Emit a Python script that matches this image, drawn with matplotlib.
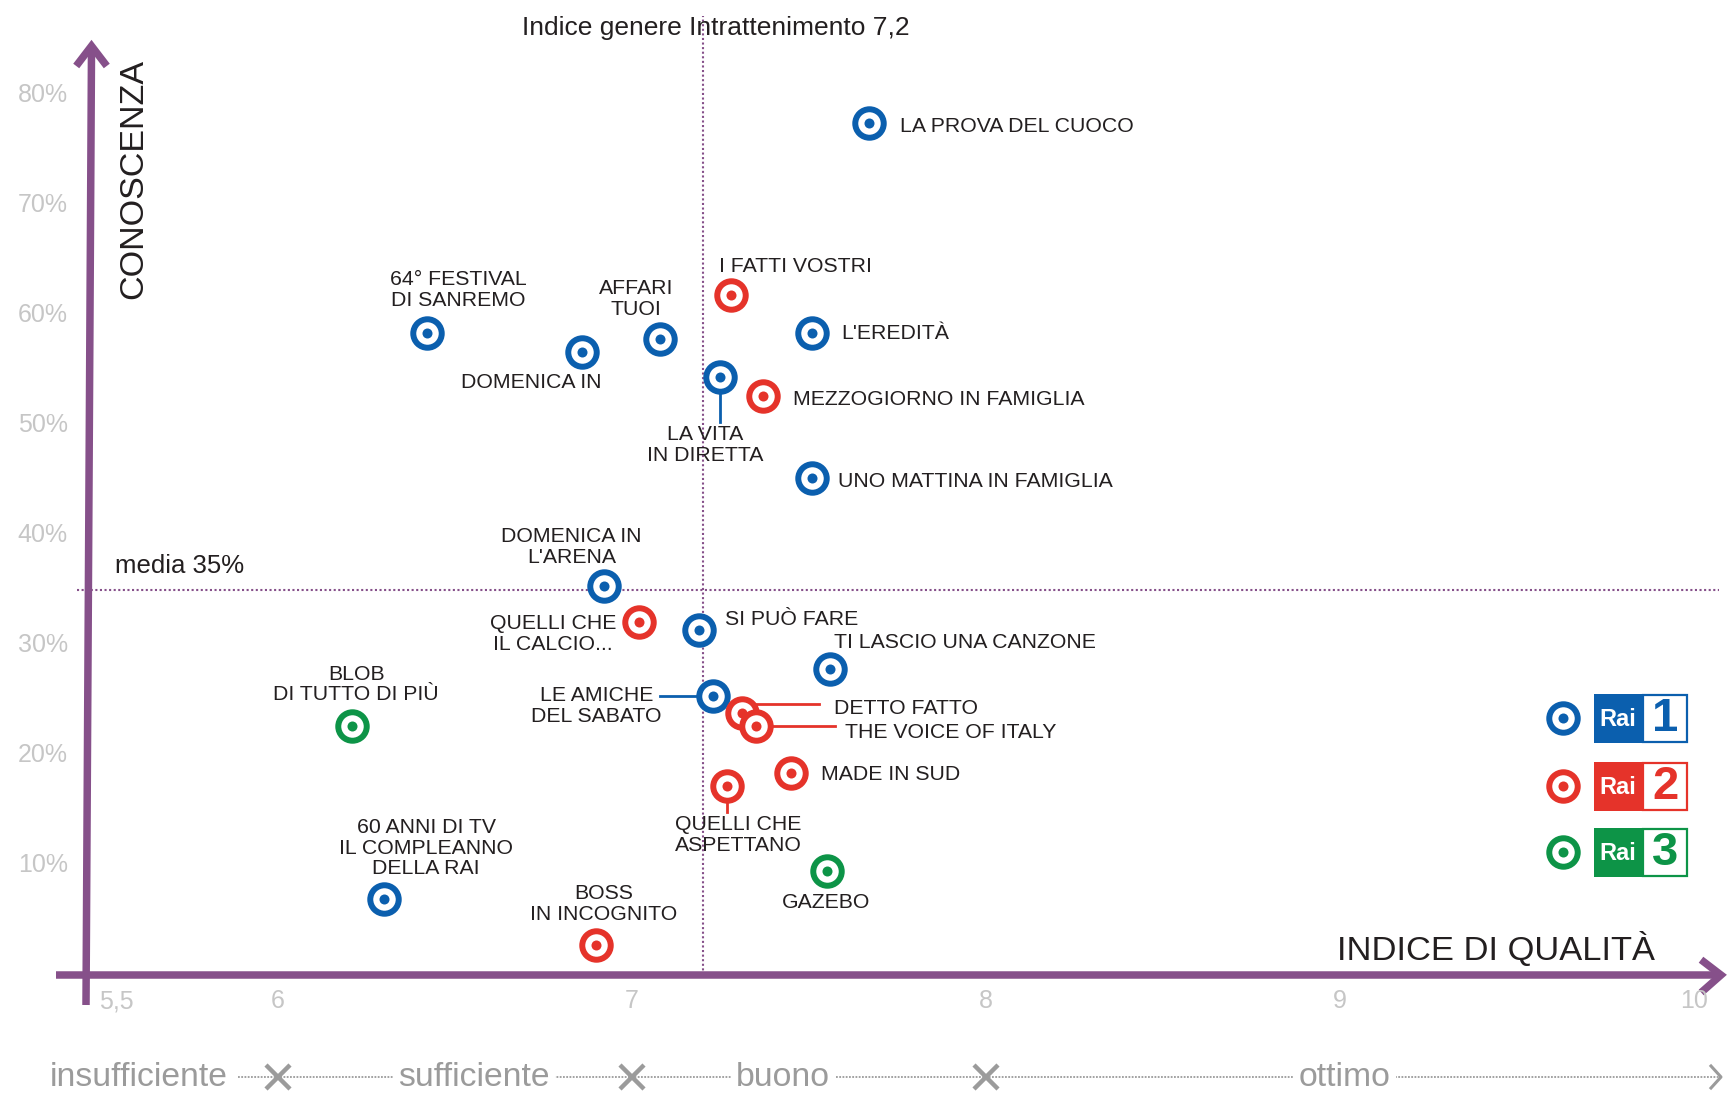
import matplotlib
matplotlib.use('Agg')
import matplotlib.pyplot as plt
from matplotlib.patches import Rectangle

plt.rcParams['font.family'] = ['Liberation Sans', 'DejaVu Sans']

# --- data ---
programs = [
    'LA PROVA DEL CUOCO', 'I FATTI VOSTRI', "L'EREDITÀ", '64° FESTIVAL\nDI SANREMO',
    'AFFARI\nTUOI', 'DOMENICA IN', 'LA VITA\nIN DIRETTA', 'MEZZOGIORNO IN FAMIGLIA',
    'UNO MATTINA IN FAMIGLIA', "DOMENICA IN\nL'ARENA", 'QUELLI CHE\nIL CALCIO...',
    'SI PUÒ FARE', 'TI LASCIO UNA CANZONE', 'LE AMICHE\nDEL SABATO', 'DETTO FATTO',
    'THE VOICE OF ITALY', 'MADE IN SUD', 'QUELLI CHE\nASPETTANO',
    'BLOB\nDI TUTTO DI PIÙ', 'GAZEBO', '60 ANNI DI TV\nIL COMPLEANNO\nDELLA RAI',
    'BOSS\nIN INCOGNITO',
]
quality = [7.67, 7.28, 7.51, 6.42, 7.08, 6.86, 7.25, 7.37, 7.51, 6.92, 7.02,
           7.19, 7.56, 7.23, 7.31, 7.35, 7.45, 7.27, 6.21, 7.55, 6.30, 6.90]
awareness = [77.5, 61.8, 58.4, 58.4, 57.8, 56.6, 54.4, 52.6, 45.2, 35.4, 32.1,
             31.4, 27.8, 25.4, 23.8, 22.6, 18.4, 17.2, 22.6, 9.5, 6.9, 2.7]
channel = ['Rai1', 'Rai2', 'Rai1', 'Rai1', 'Rai1', 'Rai1', 'Rai1', 'Rai2',
           'Rai1', 'Rai1', 'Rai2', 'Rai1', 'Rai1', 'Rai1', 'Rai2', 'Rai2',
           'Rai2', 'Rai2', 'Rai3', 'Rai3', 'Rai1', 'Rai2']

genre_index = 7.2
mean_awareness = 35
y_ticks = [10, 20, 30, 40, 50, 60, 70, 80]
x_ticks = [5.5, 6, 7, 8, 9, 10]
x_tick_labels = ['5,5', '6', '7', '8', '9', '10']
band_names = ['insufficiente', 'sufficiente', 'buono', 'ottimo']
band_edges = [6, 7, 8]
channels = ['Rai1', 'Rai2', 'Rai3']

# --- styling ---
COLORS = {'Rai1': '#0b5fae', 'Rai2': '#e5332a', 'Rai3': '#0d9447'}
PURPLE = '#86508a'
TEXT = '#231f20'
TICK_GRAY = '#c6c6c6'
BAND_GRAY = '#9b9b9b'

W, H = 1730, 1102
XMIN, XMAX = 5.2145, 10.1029
YMIN, YMAX = -11.545, 88.64
PXX = (XMAX - XMIN) / W
PXY = (YMAX - YMIN) / H


def px(x):
    return XMIN + x * PXX


def py(y):
    return YMAX - y * PXY


# label placement: (dx, dy) pixel offset from the marker (dy upwards), alignment
label_pos = {
    'LA PROVA DEL CUOCO': (31, -2, 'left'),
    'I FATTI VOSTRI': (-12, 31, 'left'),
    "L'EREDITÀ": (29, 1, 'left'),
    '64° FESTIVAL\nDI SANREMO': (32, 43, 'center'),
    'AFFARI\nTUOI': (-24, 40, 'center'),
    'DOMENICA IN': (-51, -28, 'center'),
    'LA VITA\nIN DIRETTA': (-15, -68, 'center'),
    'MEZZOGIORNO IN FAMIGLIA': (30, -1, 'left'),
    'UNO MATTINA IN FAMIGLIA': (26, -2, 'left'),
    "DOMENICA IN\nL'ARENA": (-32, 39, 'center'),
    'QUELLI CHE\nIL CALCIO...': (-86, -12, 'center'),
    'SI PUÒ FARE': (26, 12, 'left'),
    'TI LASCIO UNA CANZONE': (4, 29, 'left'),
    'LE AMICHE\nDEL SABATO': (-117, -10, 'center'),
    'DETTO FATTO': (92, 7, 'left'),
    'THE VOICE OF ITALY': (89, -4, 'left'),
    'MADE IN SUD': (30, 0, 'left'),
    'QUELLI CHE\nASPETTANO': (11, -49, 'center'),
    'BLOB\nDI TUTTO DI PIÙ': (4, 42, 'center'),
    'GAZEBO': (0, -30, 'center'),
    '60 ANNI DI TV\nIL COMPLEANNO\nDELLA RAI': (42, 51, 'center'),
    'BOSS\nIN INCOGNITO': (7, 41, 'center'),
}
# leader lines (pixel offsets from the marker)
leaders = {
    'LA VITA\nIN DIRETTA': (0, 0, 0, -45),
    'LE AMICHE\nDEL SABATO': (0, 0, -53, 0),
    'DETTO FATTO': (10, 9, 77, 9),
    'THE VOICE OF ITALY': (0, 0, 79, 0),
    'QUELLI CHE\nASPETTANO': (0, 0, 0, -26),
}

RING_S = 420
RING_LW = 4.3
DOT_S = 52


def draw_marker(ax, x, y, color):
    ax.scatter([x], [y], s=RING_S, facecolor='white', edgecolor=color,
               linewidth=RING_LW, zorder=5)
    ax.scatter([x], [y], s=DOT_S, color=color, linewidth=0, zorder=6)


fig = plt.figure(figsize=(W / 100, H / 100), dpi=100)
ax = fig.add_axes([0, 0, 1, 1])
ax.set_xlim(XMIN, XMAX)
ax.set_ylim(YMIN, YMAX)
ax.axis('off')

# reference lines
ax.plot([genre_index, genre_index], [0, py(16)], color=PURPLE, lw=1.5,
        dashes=(1, 1.2), zorder=1)
ax.plot([px(77), px(1719)], [mean_awareness, mean_awareness], color=PURPLE,
        lw=1.5, dashes=(1, 1.2), zorder=1)

# axes arrows
AX_LW = 5.4
ax.plot([px(86), px(91.5)], [py(1005), py(50)], color=PURPLE, lw=AX_LW,
        solid_capstyle='butt', zorder=2)
ax.plot([px(78.5), px(91.5), px(104.5)], [py(63), py(46), py(63)],
        color=PURPLE, lw=AX_LW, solid_joinstyle='miter', zorder=2)
ax.plot([px(56), px(1716)], [0, 0], color=PURPLE, lw=AX_LW,
        solid_capstyle='butt', zorder=2)
ax.plot([px(1704), px(1721), px(1704)], [py(962), 0, py(990)],
        color=PURPLE, lw=AX_LW, solid_joinstyle='miter', zorder=2)

# axis titles
ax.text(px(716), py(28), 'Indice genere Intrattenimento %s' % str(genre_index).replace('.', ','),
        fontsize=19, color=TEXT, ha='center', va='center')
ax.text(px(115), py(573), 'media %d%%' % mean_awareness, fontsize=18.5,
        color=TEXT, ha='left', va='baseline')
ax.text(px(134), py(179), 'CONOSCENZA', fontsize=24.5, color=TEXT,
        rotation=90, ha='center', va='center')
ax.text(px(1655), py(960), 'INDICE DI QUALITÀ', fontsize=24.8, color=TEXT,
        ha='right', va='baseline')

# ticks
for v in y_ticks:
    ax.text(px(68), v, '%d%%' % v, fontsize=18, color=TICK_GRAY,
            ha='right', va='center')
for v, lab in zip(x_ticks, x_tick_labels):
    if v == x_ticks[0]:
        ax.text(px(99), py(1001), lab, fontsize=18, color=TICK_GRAY,
                ha='left', va='center')
    else:
        ax.text(v, py(1001), lab, fontsize=18, color=TICK_GRAY,
                ha='center', va='center')

# quality bands along the bottom
band_y = py(1077)
band_centers = [px(139), px(474), px(783), px(1345)]
ax.plot([px(238), px(1719)], [band_y, band_y], color=BAND_GRAY, lw=1.3,
        dashes=(1, 0.8), zorder=1)
for name, cx in zip(band_names, band_centers):
    ax.text(cx, band_y, name, fontsize=24.3, color=BAND_GRAY, ha='center',
            va='center', zorder=3,
            bbox=dict(boxstyle='square,pad=0.15', fc='white', ec='none'))
ax.plot(band_edges, [band_y] * len(band_edges), linestyle='none', marker='x',
        markersize=17, markeredgewidth=3.2, color=BAND_GRAY, zorder=4)
ax.plot([px(1711), px(1721), px(1711)], [py(1066), band_y, py(1088)],
        color=BAND_GRAY, lw=2.2, zorder=4)

# leader lines
for name, (x1, y1, x2, y2) in leaders.items():
    i = programs.index(name)
    ax.plot([quality[i] + x1 * PXX, quality[i] + x2 * PXX],
            [awareness[i] + y1 * PXY, awareness[i] + y2 * PXY],
            color=COLORS[channel[i]], lw=2.0, zorder=3)

# programmes
for name, q, a, ch in zip(programs, quality, awareness, channel):
    draw_marker(ax, q, a, COLORS[ch])
    dx, dy, ha = label_pos[name]
    va = 'center' if '\n' in name else 'center_baseline'
    ax.annotate(name, (q, a), xytext=(dx, dy), textcoords='offset pixels',
                fontsize=15.3, color=TEXT, ha=ha, va=va,
                multialignment='center', linespacing=1.12, zorder=7)

# channel legend
legend_rows = [718, 786, 852]
for ch, ry in zip(channels, legend_rows):
    col = COLORS[ch]
    draw_marker(ax, px(1563), py(ry), col)
    bot = ry + 25
    ax.add_patch(Rectangle((px(1594), py(bot)), 48 * PXX, 49 * PXY,
                           facecolor=col, edgecolor='none', zorder=5))
    ax.add_patch(Rectangle((px(1643), py(bot - 1)), 44 * PXX, 47 * PXY,
                           facecolor='white', edgecolor=col, lw=1.6, zorder=5))
    ax.text(px(1618), py(ry + 1), 'Rai', fontsize=17, fontweight='bold',
            color='white', ha='center', va='center', zorder=6)
    ax.text(px(1665), py(ry + 1), ch[-1], fontsize=34, fontweight='bold',
            color=col, ha='center', va='center', zorder=6)

fig.savefig('out.png', dpi=100)
